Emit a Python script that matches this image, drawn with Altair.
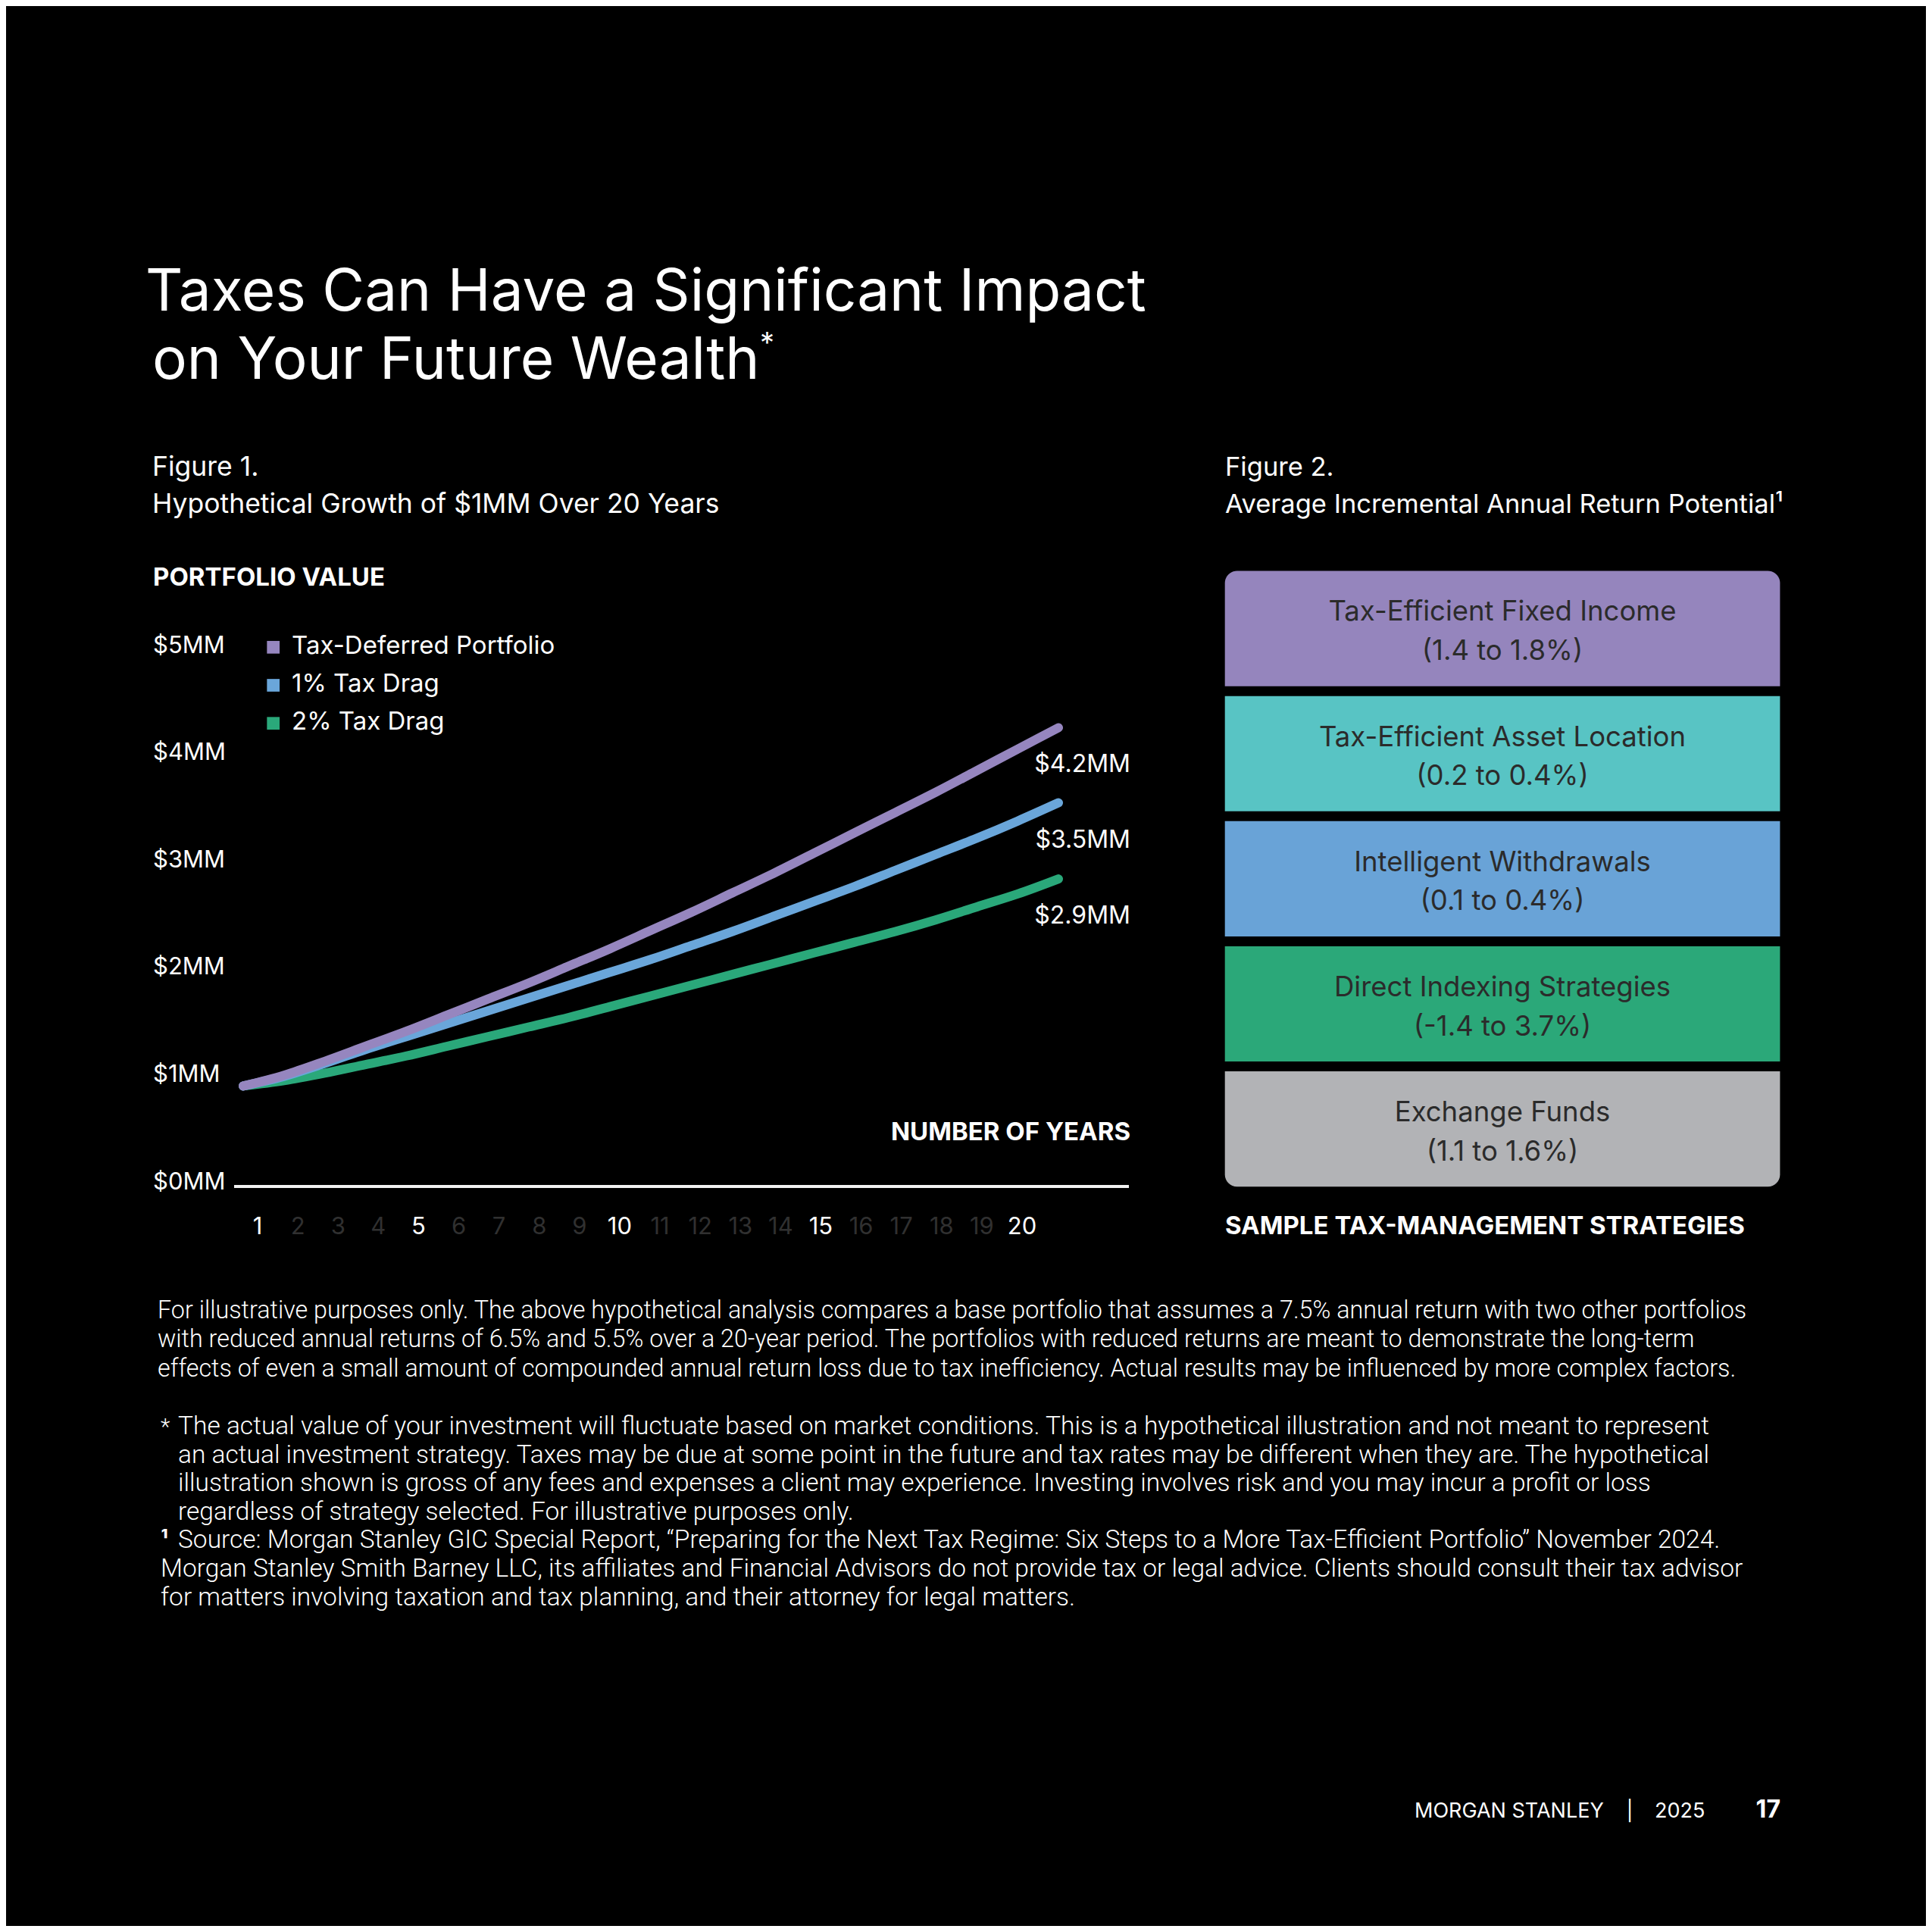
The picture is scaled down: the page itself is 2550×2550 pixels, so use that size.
"""Página 17: impacto de los impuestos en el patrimonio futuro.

Un solo lienzo en capas: las escalas llevan rangos en píxeles para que cada
figura caiga en su sitio de la página; los textos fijos van con alt.value.
"""

import altair as alt
import pandas as pd

W = H = 2534  # lienzo; la página añade 8px de margen
OFF = 8       # las coordenadas de la maqueta son de la página completa
FONT = "Inter"
NOTE_FONT = "Roboto"
WHITE = "#ffffff"
DIM = "#303030"
INK = "#2b2b2b"

# --- Figura 1: crecimiento hipotético de $1MM ($MM)
YEARS = list(range(21))
SERIES = ["Tax-Deferred Portfolio", "1% Tax Drag", "2% Tax Drag"]
LINE_COLORS = ["#9686bf", "#6aa6da", "#2aa87a"]
TAX_DEFERRED = [0.88, 0.98, 1.11, 1.25, 1.39, 1.54, 1.69, 1.84, 2.00, 2.16, 2.33,
                2.50, 2.68, 2.86, 3.05, 3.24, 3.43, 3.62, 3.82, 4.02, 4.22]
DRAG_1 = [0.88, 0.97, 1.09, 1.22, 1.34, 1.46, 1.58, 1.70, 1.82, 1.94, 2.06,
          2.19, 2.32, 2.46, 2.60, 2.74, 2.89, 3.04, 3.19, 3.35, 3.52]
DRAG_2 = [0.88, 0.93, 1.00, 1.08, 1.16, 1.25, 1.34, 1.43, 1.52, 1.62, 1.72,
          1.82, 1.92, 2.02, 2.12, 2.22, 2.32, 2.43, 2.55, 2.67, 2.81]
END_LABELS = ["$4.2MM", "$3.5MM", "$2.9MM"]
Y_TICKS = [0, 1, 2, 3, 4, 5]
Y_TICK_LABELS = ["$0MM", "$1MM", "$2MM", "$3MM", "$4MM", "$5MM"]
X_TICKS = list(range(1, 21))
X_STRONG = [1, 5, 10, 15, 20]

# --- Figura 2: estrategias de gestión fiscal
STRATEGIES = [
    "Tax-Efficient Fixed Income",
    "Tax-Efficient Asset Location",
    "Intelligent Withdrawals",
    "Direct Indexing Strategies",
    "Exchange Funds",
]
RANGES = ["(1.4 to 1.8%)", "(0.2 to 0.4%)", "(0.1 to 0.4%)", "(-1.4 to 3.7%)", "(1.1 to 1.6%)"]
BOX_COLORS = ["#9585bd", "#58c4c4", "#69a3d7", "#2ba879", "#b2b3b6"]

# --- Textos de la página
TITLE = ["Taxes Can Have a Significant Impact", "on Your Future Wealth"]
NOTE_1 = [
    "For illustrative purposes only. The above hypothetical analysis compares a base portfolio that assumes a 7.5% annual return with two other portfolios",
    "with reduced annual returns of 6.5% and 5.5% over a 20-year period. The portfolios with reduced returns are meant to demonstrate the long-term",
    "effects of even a small amount of compounded annual return loss due to tax inefficiency. Actual results may be influenced by more complex factors.",
]
NOTE_2 = [
    "The actual value of your investment will fluctuate based on market conditions. This is a hypothetical illustration and not meant to represent",
    "an actual investment strategy. Taxes may be due at some point in the future and tax rates may be different when they are. The hypothetical",
    "illustration shown is gross of any fees and expenses a client may experience. Investing involves risk and you may incur a profit or loss",
    "regardless of strategy selected. For illustrative purposes only.",
    "Source: Morgan Stanley GIC Special Report, \u201cPreparing for the Next Tax Regime: Six Steps to a More Tax-Efficient Portfolio\u201d November 2024.",
]
NOTE_3 = [
    "Morgan Stanley Smith Barney LLC, its affiliates and Financial Advisors do not provide tax or legal advice. Clients should consult their tax advisor",
    "for matters involving taxation and tax planning, and their attorney for legal matters.",
]

# Escalas con rango en píxeles del lienzo
XS = alt.Scale(domain=[0, 20], range=[321 - OFF, 1397 - OFF], nice=False, zero=False)
TICK_X = alt.Scale(domain=[1, 20], range=[340 - OFF, 1349 - OFF], nice=False, zero=False)
YS = alt.Scale(domain=[0, 5], range=[1558 - OFF, 850 - OFF], nice=False, zero=False)
LEG_Y = alt.Scale(type="point", domain=SERIES, range=[854.3 - OFF, 954.7 - OFF], padding=0)
LINE_COLOR = alt.Scale(domain=SERIES, range=LINE_COLORS)
BOX_Y = alt.Scale(type="band", domain=STRATEGIES, range=[753.6 - OFF, 1566.2 - OFF],
                  paddingInner=0.079, paddingOuter=0)
BOX_MID = alt.Scale(type="point", domain=STRATEGIES, range=[829.3 - OFF, 1490.4 - OFF], padding=0)
BOX_COLOR = alt.Scale(domain=STRATEGIES, range=BOX_COLORS)


def text(lines, x, y, size, weight="normal", align="left", color=WHITE,
         line_height=None, font=FONT):
    """Texto fijo en coordenadas de página (baseline alfabética del primer renglón)."""
    if isinstance(lines, str):
        lines = [lines]
    kw = dict(align=align, baseline="alphabetic", font=font, fontSize=size,
              fontWeight=weight, color=color)
    if len(lines) > 1:
        kw.update(lineBreak="\n", lineHeight=line_height)
    return (
        alt.Chart(pd.DataFrame({"t": ["\n".join(lines)]}))
        .mark_text(**kw)
        .encode(x=alt.value(x - OFF), y=alt.value(y - OFF), text="t:N")
    )


growth = pd.DataFrame({
    "year": YEARS * 3,
    "value": TAX_DEFERRED + DRAG_1 + DRAG_2,
    "series": [s for s in SERIES for _ in YEARS],
})

line_layers = [
    alt.Chart(growth)
    .transform_filter(alt.datum.series == s)
    .mark_line(strokeWidth=12, strokeCap="round", strokeJoin="round", interpolate="monotone")
    .encode(
        x=alt.X("year:Q", scale=XS, axis=None),
        y=alt.Y("value:Q", scale=YS, axis=None),
        color=alt.Color("series:N", scale=LINE_COLOR, legend=None),
    )
    for s in reversed(SERIES)  # morado encima, como en el original
]

ends = pd.DataFrame({
    "value": [TAX_DEFERRED[-1], DRAG_1[-1], DRAG_2[-1]],
    "label": END_LABELS,
})
end_labels = (
    alt.Chart(ends)
    .mark_text(align="right", baseline="alphabetic", dy=59, font=FONT, fontSize=32, color=WHITE)
    .encode(x=alt.value(1492 - OFF), y=alt.Y("value:Q", scale=YS, axis=None), text="label:N")
)

y_ticks = (
    alt.Chart(pd.DataFrame({"v": Y_TICKS, "label": Y_TICK_LABELS}))
    .mark_text(align="left", baseline="alphabetic", dy=11.5, font=FONT, fontSize=31, color=WHITE)
    .encode(x=alt.value(202 - OFF), y=alt.Y("v:Q", scale=YS, axis=None), text="label:N")
)

x_ticks = (
    alt.Chart(pd.DataFrame({"year": X_TICKS}))
    .mark_text(align="center", baseline="alphabetic", font=FONT, fontSize=31)
    .encode(
        x=alt.X("year:Q", scale=TICK_X, axis=None),
        y=alt.value(1629 - OFF),
        text="year:N",
        color=alt.condition(alt.FieldOneOfPredicate(field="year", oneOf=X_STRONG),
                            alt.value(WHITE), alt.value(DIM)),
    )
)

baseline_rule = (
    alt.Chart(pd.DataFrame({"a": [0]}))
    .mark_rule(color="#f2f2f2", strokeWidth=4)
    .encode(x=alt.value(309 - OFF), x2=alt.value(1490 - OFF), y=alt.value(1566 - OFF))
)

legend_df = pd.DataFrame({"series": SERIES})
legend_marks = (
    alt.Chart(legend_df)
    .mark_square(size=280, opacity=1)
    .encode(
        x=alt.value(360.7 - OFF),
        y=alt.Y("series:N", scale=LEG_Y, axis=None),
        color=alt.Color("series:N", scale=LINE_COLOR, legend=None),
    )
)
legend_text = (
    alt.Chart(legend_df)
    .mark_text(align="left", baseline="alphabetic", dy=8.5, font=FONT, fontSize=33, color=WHITE)
    .encode(x=alt.value(385 - OFF), y=alt.Y("series:N", scale=LEG_Y, axis=None), text="series:N")
)

# Figura 2: cajas apiladas; sólo la primera y la última llevan esquinas redondeadas
boxes = pd.DataFrame({"name": STRATEGIES, "range": RANGES})
box_base = alt.Chart(boxes).encode(
    x=alt.value(1616.7 - OFF),
    x2=alt.value(2349.4 - OFF),
    y=alt.Y("name:N", scale=BOX_Y, axis=None),
    color=alt.Color("name:N", scale=BOX_COLOR, legend=None),
)
box_top = box_base.transform_filter(alt.datum.name == STRATEGIES[0]).mark_rect(
    cornerRadiusTopLeft=16, cornerRadiusTopRight=16)
box_mid = box_base.transform_filter(
    alt.FieldOneOfPredicate(field="name", oneOf=STRATEGIES[1:-1])).mark_rect()
box_bottom = box_base.transform_filter(alt.datum.name == STRATEGIES[-1]).mark_rect(
    cornerRadiusBottomLeft=16, cornerRadiusBottomRight=16)

box_names = (
    alt.Chart(boxes)
    .mark_text(align="center", baseline="alphabetic", dy=-10, font=FONT, fontSize=36.5, color=INK)
    .encode(x=alt.value(1983 - OFF), y=alt.Y("name:N", scale=BOX_MID, axis=None), text="name:N")
)
box_ranges = (
    alt.Chart(boxes)
    .mark_text(align="center", baseline="alphabetic", dy=41.5, font=FONT, fontSize=36.5, color=INK)
    .encode(x=alt.value(1983 - OFF), y=alt.Y("name:N", scale=BOX_MID, axis=None), text="range:N")
)

page_text = [
    text(TITLE[0], 192, 410, 76.5),
    text(TITLE[1], 201, 500, 76.5),
    text("*", 1003, 466, 38),
    text("Figure 1.", 201, 628, 35.5),
    text("Hypothetical Growth of $1MM Over 20 Years", 201, 677, 35.5),
    text("PORTFOLIO VALUE", 202, 773, 33, weight="bold"),
    text("NUMBER OF YEARS", 1492, 1505, 33, weight="bold", align="right"),
    text("Figure 2.", 1617, 628, 34.5),
    text("Average Incremental Annual Return Potential\u00b9", 1617, 677, 34.5),
    text("SAMPLE TAX-MANAGEMENT STRATEGIES", 1617, 1629, 33, weight="bold"),
    text(NOTE_1, 208, 1740, 32.3, weight=300, line_height=38.3, font=NOTE_FONT),
    text("*", 212, 1893, 29, weight=300, font=NOTE_FONT),
    text(NOTE_2, 235, 1893, 33.5, weight=300, line_height=37.6, font=NOTE_FONT),
    text("\u00b9", 212, 2043, 30, weight="bold"),
    text(NOTE_3, 212, 2081, 33.5, weight=300, line_height=37.6, font=NOTE_FONT),
    text("MORGAN STANLEY", 1867, 2399, 27),
    text("|", 2151, 2399, 26, align="center"),
    text("2025", 2184, 2399, 27),
    text("17", 2350, 2399, 32, weight="bold", align="right"),
]

chart = (
    alt.layer(
        baseline_rule,
        *line_layers,
        end_labels,
        y_ticks,
        x_ticks,
        legend_marks,
        legend_text,
        box_top,
        box_mid,
        box_bottom,
        box_names,
        box_ranges,
        *page_text,
    )
    .resolve_scale(x="independent", y="independent", color="independent")
    .properties(
        width=W,
        height=H,
        padding=0,
        background="#000000",
        autosize=alt.AutoSizeParams(type="none"),
    )
    .configure_view(stroke=None)
)

chart.save("out.html", embed_options={"renderer": "svg", "actions": False})
